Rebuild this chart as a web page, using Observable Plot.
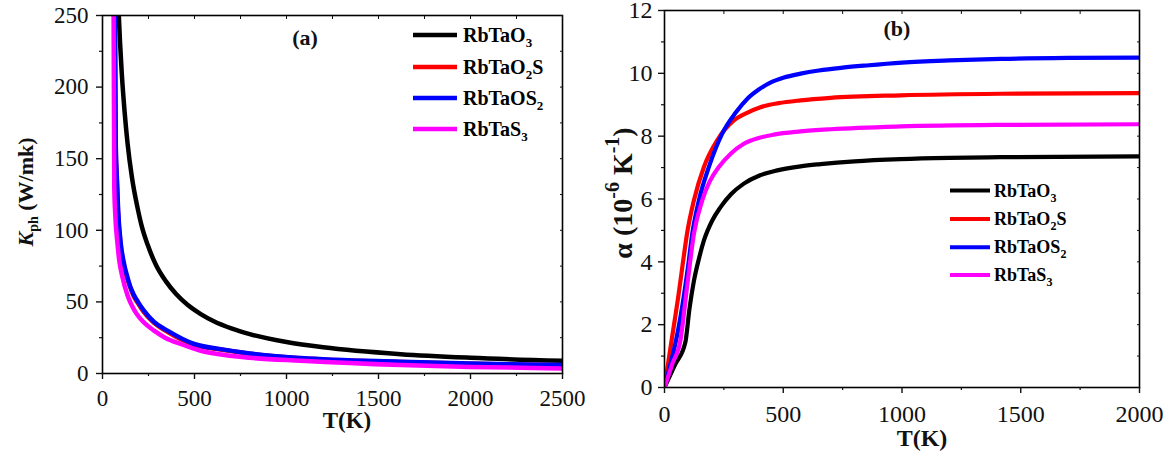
<!DOCTYPE html>
<html>
<head>
<meta charset="utf-8">
<script src="https://cdn.jsdelivr.net/npm/d3@7"></script>
<script src="https://cdn.jsdelivr.net/npm/@observablehq/plot@0.6"></script>
<style>
  html, body { margin: 0; padding: 0; background: #fff; }
  #wrap { position: relative; width: 1167px; height: 455px; overflow: hidden; font-family: "Liberation Serif", "Times New Roman", serif; }
  #left, #right { position: absolute; top: 0; }
  #left { left: 0; }
  #right { left: 600px; }
</style>
</head>
<body>
<div id="wrap"><div id="left"></div><div id="right"></div></div>
<script>
// ---------- Data ----------
const seriesNames = ["RbTaO3", "RbTaO2S", "RbTaOS2", "RbTaS3"];
const seriesColors = ["#000000", "#ff0000", "#0000ff", "#ff00ff"];

// Panel (a): lattice thermal conductivity K_ph (W/mK) vs T (K)
const kT_RbTaO3  = [80, 95, 105, 120, 136, 160, 190, 215, 245, 290, 344, 400, 462, 534, 605, 700, 800, 1000, 1200, 1621, 2000, 2500];
const kV_RbTaO3  = [275, 232, 209, 183, 161, 137, 116, 102, 90, 76, 64.5, 55.5, 48, 41.5, 36.5, 31.5, 27.5, 22, 18.3, 13.5, 11, 8.9];
const kT_RbTaO2S = [63, 71, 77, 84, 98, 113, 134, 150, 168, 193, 222, 278, 348, 492, 640, 800, 1078, 1621, 2000, 2500];
const kV_RbTaO2S = [330, 160, 137, 114, 90, 77, 66.5, 60.5, 54.5, 49, 43.3, 35.5, 29.5, 20.3, 16.7, 13.8, 10.6, 8.0, 6.8, 5.7];
const kT_RbTaOS2 = [64, 72, 78, 85, 99.5, 115, 136, 150, 170, 195, 226, 280, 353, 498, 643, 800, 1078, 1621, 2000, 2500];
const kV_RbTaOS2 = [330, 160, 137, 114, 90.5, 78, 67, 61, 55, 49.5, 43.8, 36, 29.9, 20.6, 17, 14, 10.8, 8.2, 7, 5.9];
const kT_RbTaS3  = [58, 64, 69, 81.5, 90, 109, 135, 150, 172, 195, 220, 280, 340, 425, 534, 625, 800, 1078, 1621, 2000, 2500];
const kV_RbTaS3  = [330, 130, 112, 90.5, 80, 67, 55, 50, 44.5, 40, 36.3, 29.9, 25, 20.6, 15.9, 13.6, 11, 8.9, 5.9, 4.6, 3.5];

// Panel (b): thermal expansion coefficient alpha (1e-6 /K) vs T (K)
const aT_RbTaO3  = [0, 44, 88, 105, 124, 145, 166, 200, 236, 280, 334, 400, 475, 573, 657, 800, 994, 1200, 1415, 2000];
const aV_RbTaO3  = [0, 0.72, 1.45, 2.5, 3.4, 4.1, 4.68, 5.3, 5.74, 6.15, 6.49, 6.75, 6.91, 7.04, 7.11, 7.2, 7.27, 7.31, 7.33, 7.36];
const aT_RbTaO2S = [0, 30, 60, 78, 95, 124, 166, 222, 292, 350, 404, 480, 573, 700, 994, 1415, 2000];
const aV_RbTaO2S = [0, 1.5, 3.0, 4.0, 4.9, 5.96, 7.02, 7.87, 8.5, 8.75, 8.92, 9.05, 9.14, 9.22, 9.30, 9.35, 9.37];
const aT_RbTaOS2 = [0, 20, 40, 75, 100, 117, 145, 187, 243, 300, 350, 400, 450, 500, 573, 650, 750, 850, 1000, 1200, 1415, 1700, 2000];
const aV_RbTaOS2 = [0, 0.6, 1.2, 2.6, 3.9, 4.9, 5.96, 7.02, 8.08, 8.75, 9.2, 9.5, 9.72, 9.86, 9.99, 10.09, 10.18, 10.25, 10.34, 10.41, 10.46, 10.49, 10.5];
const aT_RbTaS3  = [0, 33, 67, 95, 124, 159, 190, 229, 280, 334, 400, 460, 573, 700, 994, 1415, 2000];
const aV_RbTaS3  = [0, 0.75, 1.5, 3.2, 4.9, 5.96, 6.55, 7.02, 7.45, 7.76, 7.95, 8.05, 8.15, 8.22, 8.31, 8.36, 8.38];

const xTicksA = [0, 500, 1000, 1500, 2000, 2500];
const xMinorA = [250, 750, 1250, 1750, 2250];
const yTicksA = [0, 50, 100, 150, 200, 250];
const yMinorA = [25, 75, 125, 175, 225];
const xTicksB = [0, 500, 1000, 1500, 2000];
const xMinorB = [250, 750, 1250, 1750];
const yTicksB = [0, 2, 4, 6, 8, 10, 12];
const yMinorB = [1, 3, 5, 7, 9, 11];

// ---------- Build tables ----------
function rows(Ts, Vs, name) { return Ts.map((t, i) => ({T: t, v: Vs[i], s: name})); }
const dataA = [
  ...rows(kT_RbTaO3, kV_RbTaO3, "RbTaO3"),
  ...rows(kT_RbTaO2S, kV_RbTaO2S, "RbTaO2S"),
  ...rows(kT_RbTaOS2, kV_RbTaOS2, "RbTaOS2"),
  ...rows(kT_RbTaS3, kV_RbTaS3, "RbTaS3")
];
const dataB = [
  ...rows(aT_RbTaO3, aV_RbTaO3, "RbTaO3"),
  ...rows(aT_RbTaO2S, aV_RbTaO2S, "RbTaO2S"),
  ...rows(aT_RbTaOS2, aV_RbTaOS2, "RbTaOS2"),
  ...rows(aT_RbTaS3, aV_RbTaS3, "RbTaS3")
];

const FONT = "Liberation Serif, Times New Roman, serif";
const blank = () => "";
const plain = d => String(d);

function framedAxes(xt, xm, yt, ym, fs, xpad, ypad) {
  return [
    Plot.frame({stroke: "#000", strokeWidth: 1.6}),
    Plot.axisX({ticks: xt, tickSize: 6, tickPadding: xpad, tickFormat: plain, label: null, strokeWidth: 1.4, fontSize: fs}),
    Plot.axisX({ticks: xm, tickSize: 3, tickFormat: blank, label: null, strokeWidth: 1.2}),
    Plot.axisX({anchor: "top", ticks: [...xt, ...xm], tickSize: -3, tickFormat: blank, label: null, strokeWidth: 1}),
    Plot.axisY({ticks: yt, tickSize: 6, tickPadding: ypad, tickFormat: plain, label: null, strokeWidth: 1.4, fontSize: fs}),
    Plot.axisY({ticks: ym, tickSize: 3, tickFormat: blank, label: null, strokeWidth: 1.2}),
    Plot.axisY({anchor: "right", ticks: [...yt, ...ym], tickSize: -3, tickFormat: blank, label: null, strokeWidth: 1})
  ];
}

const plotA = Plot.plot({
  width: 600, height: 455,
  marginLeft: 102, marginRight: 38, marginTop: 15, marginBottom: 82,
  style: {fontFamily: FONT, fontSize: "23px", color: "#111", background: "transparent", overflow: "visible"},
  x: {domain: [0, 2500]},
  y: {domain: [0, 250]},
  color: {domain: seriesNames, range: seriesColors},
  marks: [
    Plot.line(dataA, {x: "T", y: "v", z: "s", stroke: "s", strokeWidth: 4.5, curve: "monotone-x", clip: true}),
    ...framedAxes(xTicksA, xMinorA, yTicksA, yMinorA, 23, 10, 8)
  ]
});
document.getElementById("left").appendChild(plotA);

const plotB = Plot.plot({
  width: 567, height: 455,
  marginLeft: 64, marginRight: 28, marginTop: 10, marginBottom: 68,
  style: {fontFamily: FONT, fontSize: "24px", color: "#111", background: "transparent", overflow: "visible"},
  x: {domain: [0, 2000]},
  y: {domain: [0, 12]},
  color: {domain: seriesNames, range: seriesColors},
  marks: [
    Plot.line(dataB, {x: "T", y: "v", z: "s", stroke: "s", strokeWidth: 4.2, curve: "monotone-x", clip: true}),
    ...framedAxes(xTicksB, xMinorB, yTicksB, yMinorB, 24, 11, 6)
  ]
});
document.getElementById("right").appendChild(plotB);

// ---------- Annotations (titles, legends, panel labels) ----------
function subLabel(g, x, y, name, fs, sfs, sdy) {
  const t = g.append("text").attr("x", x).attr("y", y).attr("text-anchor", "start")
    .attr("font-family", FONT).attr("font-weight", "bold").attr("font-size", fs).attr("fill", "#000");
  const parts = name.split(/(\d)/).filter(p => p !== "");
  let shifted = false;
  parts.forEach(p => {
    if (/^\d$/.test(p)) {
      t.append("tspan").attr("font-size", sfs).attr("dy", shifted ? 0 : sdy).text(p);
      shifted = true;
    } else {
      t.append("tspan").attr("dy", shifted ? -sdy : 0).text(p);
      shifted = false;
    }
  });
}

function legend(svg, x1, x2, tx, ys, fs, sfs, sdy, bdy, sw) {
  const g = svg.append("g");
  seriesNames.forEach((n, i) => {
    g.append("line").attr("x1", x1).attr("x2", x2).attr("y1", ys[i]).attr("y2", ys[i])
      .attr("stroke", seriesColors[i]).attr("stroke-width", sw);
    subLabel(g, tx, ys[i] + bdy, n, fs, sfs, sdy);
  });
}

const svgA = d3.select(plotA);
const svgB = d3.select(plotB);

legend(svgA, 413, 457, 463, [35, 67, 98, 129], 20, 13, 5, 7, 4.5);
legend(svgB, 350, 390, 394, [190.5, 219, 247.3, 275], 18, 12, 5, 6, 4);

svgA.append("text").attr("x", 305).attr("y", 45).attr("text-anchor", "middle")
  .attr("font-family", FONT).attr("font-weight", "bold").attr("font-size", 22).text("(a)");
svgB.append("text").attr("x", 297).attr("y", 36).attr("text-anchor", "middle")
  .attr("font-family", FONT).attr("font-weight", "bold").attr("font-size", 22).text("(b)");

// x titles
svgA.append("text").attr("x", 347).attr("y", 428).attr("text-anchor", "middle")
  .attr("font-family", FONT).attr("font-weight", "bold").attr("font-size", 23).text("T(K)");
svgB.append("text").attr("x", 322).attr("y", 446).attr("text-anchor", "middle")
  .attr("font-family", FONT).attr("font-weight", "bold").attr("font-size", 24).text("T(K)");

// y title (a): K_ph (W/mk)
{
  const t = svgA.append("text").attr("transform", "translate(33,192) rotate(-90)")
    .attr("text-anchor", "middle").attr("font-family", FONT).attr("font-weight", "bold").attr("font-size", 22);
  t.append("tspan").attr("font-style", "italic").text("K");
  t.append("tspan").attr("font-size", 14).attr("dy", 5).text("ph");
  t.append("tspan").attr("dy", -5).text(" (W/mk)");
}
// y title (b): α (10^-6 K^-1)
{
  const t = svgB.append("text").attr("transform", "translate(32,193) rotate(-90)")
    .attr("text-anchor", "middle").attr("font-family", FONT).attr("font-weight", "bold").attr("font-size", 28);
  t.append("tspan").text("α (10");
  t.append("tspan").attr("font-size", 20).attr("dy", -13).text("-6");
  t.append("tspan").attr("dy", 13).text(" K");
  t.append("tspan").attr("font-size", 20).attr("dy", -13).text("-1");
  t.append("tspan").attr("dy", 13).text(")");
}
</script>
</body>
</html>
